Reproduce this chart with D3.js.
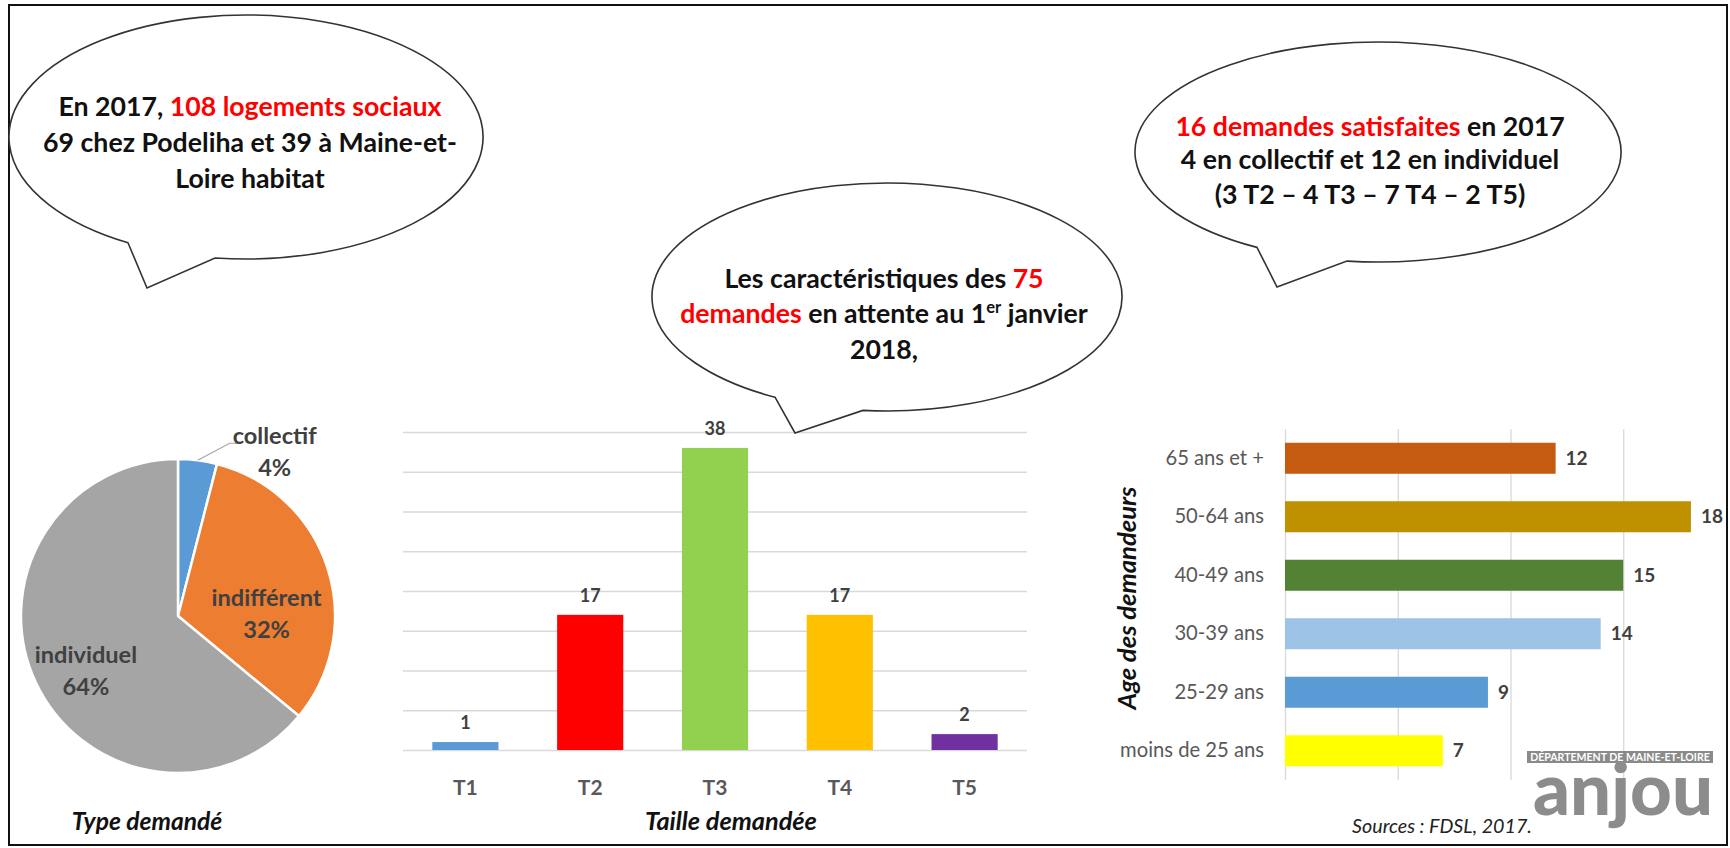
<!DOCTYPE html>
<html>
<head>
<meta charset="utf-8">
<script src="https://cdn.jsdelivr.net/npm/d3@7"></script>
<style>
  html, body { margin: 0; padding: 0; background: #fff; }
  svg { display: block; }
</style>
</head>
<body>
<svg id="chart" width="1730" height="848"></svg>
<script>
// ---------------- data ----------------
const typeLabels = ["collectif", "indifférent", "individuel"];
const typeShares = [4, 32, 64];

const sizeCategories = ["T1", "T2", "T3", "T4", "T5"];
const sizeCounts = [1, 17, 38, 17, 2];
const sizeTicks = [0, 5, 10, 15, 20, 25, 30, 35, 40];

const ageCategories = ["65 ans et +", "50-64 ans", "40-49 ans", "30-39 ans", "25-29 ans", "moins de 25 ans"];
const ageCounts = [12, 18, 15, 14, 9, 7];
const ageTicks = [0, 5, 10, 15];

// speech bubble texts: lines made of [text, kind] segments
const bubbleLeft = [
  [["En 2017, ", "k"], ["108 logements sociaux", "r"]],
  [["69 chez Podeliha et 39 à Maine-et-", "k"]],
  [["Loire habitat", "k"]]
];
const bubbleMiddle = [
  [["Les caractéristiques des ", "k"], ["75", "r"]],
  [["demandes", "r"], [" en attente au 1", "k"], ["er", "sup"], [" janvier", "k"]],
  [["2018,", "k"]]
];
const bubbleRight = [
  [["16 demandes satisfaites", "r"], [" en 2017", "k"]],
  [["4 en collectif et 12 en individuel", "k"]],
  [["(3 T2 \u2013 4 T3 \u2013 7 T4 \u2013 2 T5)", "k"]]
];

// ---------------- styles ----------------
const FONT = "Lato, 'Open Sans', 'Noto Sans', sans-serif";
const typeColors = ["#5b9bd5", "#ed7d31", "#a5a5a5"];
const sizeColors = ["#5b9bd5", "#ff0000", "#92d050", "#ffc000", "#7030a0"];
const ageColors = ["#c55a11", "#bf9000", "#548235", "#9dc3e6", "#5b9bd5", "#ffff00"];
const GRID = "#d9d9d9";

const svg = d3.select("#chart");

function measure(text, size, weight, style) {
  const t = svg.append("text")
    .attr("font-family", FONT).attr("font-size", size)
    .attr("font-weight", weight).attr("font-style", style || "normal")
    .text(text);
  const w = t.node().getComputedTextLength();
  t.remove();
  return w;
}
function fitSize(text, width, weight, style) {
  return 40 * width / measure(text, 40, weight, style);
}

const bubbleSize = fitSize("69 chez Podeliha et 39 à Maine-et-", 414, 700);
const pieSize = fitSize("indifférent", 110, 700);
const captionSize = fitSize("Taille demandée", 172, 700, "italic");
const ageLabelSize = fitSize("moins de 25 ans", 144, 400);
const ageTitleSize = fitSize("Age des demandeurs", 223, 700, "italic");
const sourceSize = fitSize("Sources : FDSL, 2017.", 180, 400, "italic");

// background + frame
svg.append("rect").attr("width", 1730).attr("height", 848).attr("fill", "#fff");
svg.append("rect")
  .attr("x", 9).attr("y", 5).attr("width", 1718).attr("height", 840)
  .attr("fill", "none").attr("stroke", "#111").attr("stroke-width", 2);

// ---------------- pie : type demandé ----------------
const pieCx = 178, pieCy = 616, pieR = 157;
const pieG = svg.append("g").attr("transform", `translate(${pieCx},${pieCy})`);
const pieData = d3.pie().sort(null).value(d => d)(typeShares);
const arc = d3.arc().innerRadius(0).outerRadius(pieR);
const labelArc = d3.arc().innerRadius(pieR * 0.62).outerRadius(pieR * 0.62);

pieG.selectAll("path.slice").data(pieData).join("path")
  .attr("class", "slice")
  .attr("d", arc)
  .attr("fill", (d, i) => typeColors[i])
  .attr("stroke", "#fff").attr("stroke-width", 2.5).attr("stroke-linejoin", "round");

// label placement: inside slices for the large ones, outside with a leader for the small one
const pieLabelShift = [null, [-4, 28], [-4, 13]];
pieData.forEach((d, i) => {
  let cx, cy;
  if (pieLabelShift[i]) {
    const c = labelArc.centroid(d);
    cx = c[0] + pieLabelShift[i][0];
    cy = c[1] + pieLabelShift[i][1];
  } else {
    const mid = (d.startAngle + d.endAngle) / 2;
    const ex = Math.sin(mid) * pieR, ey = -Math.cos(mid) * pieR;
    const bx = ex + 32, by = ey - 17;
    pieG.append("polyline")
      .attr("points", [[ex, ey], [bx, by], [bx + 9, by]].map(p => p.join(",")).join(" "))
      .attr("fill", "none").attr("stroke", "#a6a6a6").attr("stroke-width", 1.2);
    cx = bx + 45;
    cy = by + 8;
  }
  const lbl = pieG.append("text")
    .attr("font-family", FONT).attr("font-weight", 700)
    .attr("font-size", pieSize).attr("fill", "#404040")
    .attr("text-anchor", "middle");
  lbl.append("tspan").attr("x", cx).attr("y", cy - 16).attr("dy", "0.35em").text(typeLabels[i]);
  lbl.append("tspan").attr("x", cx).attr("y", cy + 16).attr("dy", "0.35em")
    .text(Math.round(d.value) + "%");
});

svg.append("text")
  .attr("x", 147).attr("y", 830)
  .attr("text-anchor", "middle")
  .attr("font-family", FONT).attr("font-weight", 700).attr("font-style", "italic")
  .attr("font-size", captionSize * 0.97).attr("fill", "#111")
  .text("Type demandé");

// ---------------- column chart : taille demandée ----------------
const colX = d3.scaleBand().domain(sizeCategories).range([403, 1027])
  .paddingInner(0.47).paddingOuter(0.235);
const colY = d3.scaleLinear().domain([0, 40]).range([750, 432]);

const colGrid = svg.append("g").attr("transform", "translate(403,0)")
  .call(d3.axisLeft(colY).tickValues(sizeTicks).tickSize(-624).tickFormat(""));
colGrid.select(".domain").remove();
colGrid.selectAll(".tick line").attr("stroke", GRID).attr("stroke-width", 1.3);

svg.append("g").selectAll("rect").data(sizeCounts).join("rect")
  .attr("x", (d, i) => colX(sizeCategories[i]))
  .attr("y", d => colY(d))
  .attr("width", colX.bandwidth())
  .attr("height", d => colY(0) - colY(d))
  .attr("fill", (d, i) => sizeColors[i]);

svg.append("g").selectAll("text").data(sizeCounts).join("text")
  .attr("x", (d, i) => colX(sizeCategories[i]) + colX.bandwidth() / 2)
  .attr("y", d => colY(d) - 13)
  .attr("text-anchor", "middle")
  .attr("font-family", FONT).attr("font-weight", 700).attr("font-size", 18)
  .attr("fill", "#404040")
  .text(d => d);

const colAxis = svg.append("g").attr("transform", "translate(0,750)")
  .call(d3.axisBottom(colX).tickSize(0).tickPadding(30));
colAxis.select(".domain").remove();
colAxis.selectAll("text")
  .attr("font-family", FONT).attr("font-weight", 700).attr("font-size", 21)
  .attr("fill", "#595959");

svg.append("text")
  .attr("x", 731).attr("y", 830)
  .attr("text-anchor", "middle")
  .attr("font-family", FONT).attr("font-weight", 700).attr("font-style", "italic")
  .attr("font-size", captionSize).attr("fill", "#111")
  .text("Taille demandée");

// ---------------- bar chart : âge des demandeurs ----------------
const barX = d3.scaleLinear().domain([0, 20]).range([1285, 1736]);
const barY = d3.scaleBand().domain(ageCategories).range([429, 780])
  .paddingInner(0.47).paddingOuter(0.235);

const barGrid = svg.append("g").attr("transform", "translate(0,780)")
  .call(d3.axisBottom(barX).tickValues(ageTicks).tickSize(-351).tickFormat(""));
barGrid.select(".domain").remove();
barGrid.selectAll(".tick line").attr("stroke", GRID).attr("stroke-width", 1.3);

svg.append("g").selectAll("rect").data(ageCounts).join("rect")
  .attr("x", barX(0))
  .attr("y", (d, i) => barY(ageCategories[i]))
  .attr("width", d => barX(d) - barX(0))
  .attr("height", barY.bandwidth())
  .attr("fill", (d, i) => ageColors[i]);

svg.append("g").selectAll("text").data(ageCounts).join("text")
  .attr("x", d => barX(d) + 10)
  .attr("y", (d, i) => barY(ageCategories[i]) + barY.bandwidth() / 2)
  .attr("dy", "0.35em")
  .attr("font-family", FONT).attr("font-weight", 700).attr("font-size", 19)
  .attr("fill", "#404040")
  .text(d => d);

const barAxis = svg.append("g").attr("transform", `translate(${barX(0)},0)`)
  .call(d3.axisLeft(barY).tickSize(0).tickPadding(21));
barAxis.select(".domain").remove();
barAxis.selectAll("text")
  .attr("font-family", FONT).attr("font-weight", 400).attr("font-size", ageLabelSize)
  .attr("fill", "#595959");

svg.append("text")
  .attr("transform", "translate(1127,598) rotate(-90)")
  .attr("text-anchor", "middle").attr("dy", "0.35em")
  .attr("font-family", FONT).attr("font-weight", 700).attr("font-style", "italic")
  .attr("font-size", ageTitleSize).attr("fill", "#111")
  .text("Age des demandeurs");

// logo block: grey band with the department name, then the wordmark
const logo = svg.append("g");
logo.append("rect").attr("x", 1527).attr("y", 751).attr("width", 186).attr("height", 12)
  .attr("fill", "#8a8a8a");
const bandText = "DÉPARTEMENT DE MAINE-ET-LOIRE";
const bandSize = fitSize(bandText, 180, 700);
const anjouSize = fitSize("anjou", 180, 900);
const logoText = logo.append("text")
  .attr("text-anchor", "middle")
  .attr("font-family", FONT).attr("font-weight", 700);
logoText.append("tspan")
  .attr("x", 1620).attr("y", 757).attr("dy", "0.35em")
  .attr("font-size", bandSize).attr("fill", "#fff").text(bandText);
logoText.append("tspan")
  .attr("x", 1623).attr("y", 815)
  .attr("font-size", anjouSize).attr("font-weight", 900)
  .attr("fill", "#8c8c8c").text("anjou");

svg.append("text")
  .attr("x", 1442).attr("y", 826).attr("dy", "0.35em")
  .attr("text-anchor", "middle")
  .attr("font-family", FONT).attr("font-style", "italic").attr("font-size", sourceSize)
  .attr("fill", "#222")
  .text("Sources : FDSL, 2017.");

// ---------------- speech bubbles ----------------
function bubble(cx, cy, rx, ry, xl, xr, tip, lines, tx, baselines) {
  const yOn = x => cy + ry * Math.sqrt(1 - Math.pow((x - cx) / rx, 2));
  const pl = [xl, yOn(xl)], pr = [xr, yOn(xr)];
  const path = `M${pr[0]},${pr[1]} A${rx},${ry} 0 1 0 ${pl[0]},${pl[1]} L${tip[0]},${tip[1]} Z`;
  const g = svg.append("g");
  g.append("path").attr("d", path)
    .attr("fill", "#fff").attr("stroke", "#333").attr("stroke-width", 1.6)
    .attr("stroke-linejoin", "miter");
  lines.forEach((segs, i) => {
    const t = g.append("text")
      .attr("x", tx).attr("y", baselines[i])
      .attr("text-anchor", "middle")
      .attr("font-family", FONT).attr("font-weight", 700).attr("font-size", bubbleSize)
      .attr("fill", "#111");
    segs.forEach(([s, kind]) => {
      const sp = t.append("tspan").text(s);
      if (kind === "r") sp.attr("fill", "#ff0000");
      if (kind === "sup") sp.attr("font-size", bubbleSize * 0.62).attr("baseline-shift", "super");
    });
  });
}

bubble(246, 137, 237, 122, 128, 215, [147, 288], bubbleLeft, 250, [116, 152, 188]);
bubble(1378, 152, 243, 110, 1257, 1347, [1277, 287], bubbleRight, 1370, [136, 169, 204]);
bubble(887, 297, 235, 114, 775, 863, [795, 433], bubbleMiddle, 884, [288, 323, 359]);
</script>
</body>
</html>
